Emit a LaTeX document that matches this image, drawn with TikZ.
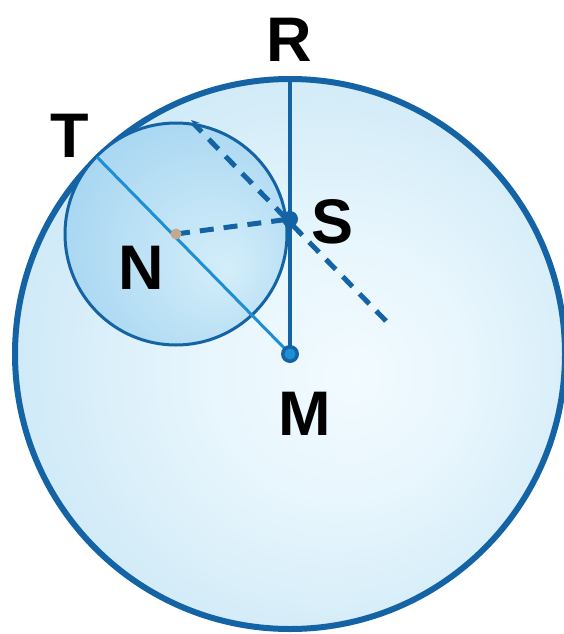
\documentclass[tikz,border=0pt]{standalone}
\usepackage{fontspec}
\setmainfont{Liberation Sans}
\usetikzlibrary{arrows.meta}
\definecolor{rimblue}{HTML}{1464A5}
\definecolor{lineblue}{HTML}{1E8FD2}
\definecolor{bigin}{HTML}{F2FBFF}
\definecolor{bigout}{HTML}{ADD9F0}
\definecolor{smallin}{HTML}{D4EEFA}
\definecolor{smallout}{HTML}{8DC8EC}
\definecolor{ndot}{HTML}{C4A98E}
\pgfdeclareradialshading{bigshade}{\pgfpoint{6bp}{-2bp}}{color(0bp)=(bigin); color(12bp)=(bigin!85!bigout); color(50bp)=(bigout)}
\pgfdeclareradialshading{smallshade}{\pgfpoint{12bp}{-8bp}}{color(0bp)=(smallin); color(50bp)=(smallout)}
\tikzset{
  lbl/.style={font=\fontsize{63}{63}\selectfont\bfseries, text=black, inner sep=0pt},
  dashline/.style={rimblue, line width=5pt, dash pattern=on 14pt off 10pt},
}
\begin{document}
\begin{tikzpicture}[x=1pt,y=-1pt]
\useasboundingbox (0,0) rectangle (564,634);
\fill[white] (0,0) rectangle (564,634);
\coordinate (M) at (290,354);
\coordinate (N) at (176,234);
\coordinate (R) at (290,79);
\coordinate (S) at (290,219);
\coordinate (T) at (97,157);
\coordinate (P) at (193,123);
\coordinate (E) at (386,321);
% big circle
\shade[shading=bigshade] (M) circle (275);
\draw[rimblue, line width=6pt] (M) circle (275);
% small circle
\shade[shading=smallshade] (N) circle (111);
\draw[rimblue, line width=3pt] (N) circle (111);
% lines
\draw[lineblue, line width=3pt] (T) -- (M);
\draw[rimblue, line width=4pt] (R) -- (M);
\draw[dashline] (N) -- (S);
\draw[dashline] (E) -- (P);
\fill[rimblue] (P) -- ++(-2,-3) -- ++(9,3) -- cycle;
% dots
\fill[rimblue] (S) circle (8);
\fill[rimblue] (M) circle (9);
\fill[lineblue] (M) circle (5.5);
\fill[ndot] (N) circle (5.5);
% labels
\node[lbl] (lR) at (289,40) {R};
\node[lbl] (lT) at (70,136) {T};
\node[lbl] (lS) at (333,222) {S};
\node[lbl] (lN) at (141,268) {N};
\node[lbl] (lM) at (305,414) {M};
\end{tikzpicture}
\end{document}
